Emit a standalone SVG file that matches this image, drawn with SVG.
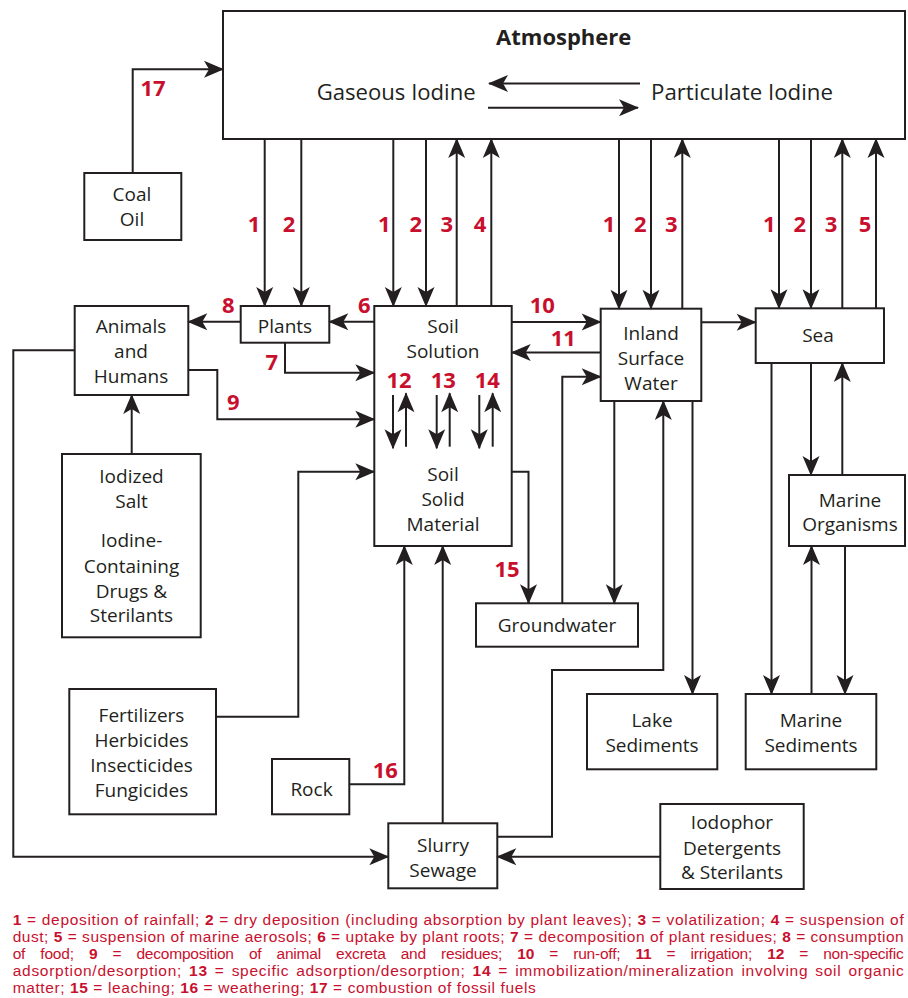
<svg xmlns="http://www.w3.org/2000/svg" width="908" height="998" viewBox="0 0 908 998">
<style>
.box{fill:#fff;stroke:#231f20;stroke-width:2}
.t{font-family:"Open Sans","Noto Sans","Liberation Sans",sans-serif;font-size:19px;fill:#231f20;text-anchor:middle}
.n{font-family:"Open Sans","Noto Sans","Liberation Sans",sans-serif;font-weight:bold;font-size:22px;fill:#c8102e;text-anchor:middle}
.c{fill:none;stroke:#231f20;stroke-width:2;marker-end:url(#ah)}
.leg{font-family:"Liberation Sans",Arial,sans-serif;font-size:15.5px;fill:#c8102e}
.leg tspan.b{font-weight:bold}
</style>
<defs>
<marker id="ah" viewBox="-20 -10 22 20" refX="0" refY="0" markerWidth="22" markerHeight="20" markerUnits="userSpaceOnUse" orient="auto">
<path d="M1,0 L-19,-8.5 L-14,0 L-19,8.5 Z" fill="#231f20"/>
</marker>
</defs>
<rect width="908" height="998" fill="#fff"/>

<g id="atmosphere">
<rect class="box" x="223" y="11" width="682" height="128"/>
<text x="563.7" y="44.5" class="t" style="font-weight:bold;font-size:22px">Atmosphere</text>
<text x="316.7" y="100" class="t" style="text-anchor:start;font-size:22px" textLength="159" lengthAdjust="spacingAndGlyphs">Gaseous Iodine</text>
<text x="651" y="100" class="t" style="text-anchor:start;font-size:22px" textLength="182" lengthAdjust="spacingAndGlyphs">Particulate Iodine</text>
</g>
<g id="coal-oil">
<rect class="box" x="84.3" y="173" width="97" height="67"/>
<text class="t" x="132" y="201.3">Coal</text>
<text class="t" x="132" y="226.3">Oil</text>
</g>
<g id="animals">
<rect class="box" x="74.7" y="306" width="113.6" height="89"/>
<text class="t" x="131" y="332.7">Animals</text>
<text class="t" x="131" y="357.7">and</text>
<text class="t" x="131" y="382.7">Humans</text>
</g>
<g id="plants">
<rect class="box" x="240.7" y="306" width="88.6" height="36.7"/>
<text class="t" x="285" y="332.7">Plants</text>
</g>
<g id="soil">
<rect class="box" x="374.3" y="306" width="137.4" height="240"/>
<text class="t" x="443" y="332.7">Soil</text>
<text class="t" x="443" y="357.7">Solution</text>
<text class="t" x="443" y="480.7">Soil</text>
<text class="t" x="443" y="506">Solid</text>
<text class="t" x="443" y="530.5">Material</text>
</g>
<g id="inland">
<rect class="box" x="600.7" y="308.7" width="100.6" height="92.3"/>
<text class="t" x="651" y="340">Inland</text>
<text class="t" x="651" y="365">Surface</text>
<text class="t" x="651" y="390">Water</text>
</g>
<g id="sea">
<rect class="box" x="755.7" y="308.3" width="128.3" height="54.7"/>
<text class="t" x="818" y="342.3">Sea</text>
</g>
<g id="marine-organisms">
<rect class="box" x="789" y="475" width="116" height="71"/>
<text class="t" x="850" y="506.7">Marine</text>
<text class="t" x="850" y="530.7">Organisms</text>
</g>
<g id="iodized">
<rect class="box" x="62" y="454" width="138.7" height="183.3"/>
<text class="t" x="131.5" y="482.7">Iodized</text>
<text class="t" x="131.5" y="508">Salt</text>
<text class="t" x="131.5" y="547">Iodine-</text>
<text class="t" x="131.5" y="572.5">Containing</text>
<text class="t" x="131.5" y="597.5">Drugs &amp;</text>
<text class="t" x="131.5" y="622.3">Sterilants</text>
</g>
<g id="groundwater">
<rect class="box" x="476" y="603.3" width="162" height="43.4"/>
<text class="t" x="557" y="631.7">Groundwater</text>
</g>
<g id="fertilizers">
<rect class="box" x="69.3" y="689" width="146.7" height="125.3"/>
<text class="t" x="141.5" y="721.7">Fertilizers</text>
<text class="t" x="141.5" y="746.7">Herbicides</text>
<text class="t" x="141.5" y="771.7">Insecticides</text>
<text class="t" x="141.5" y="796.7">Fungicides</text>
</g>
<g id="rock">
<rect class="box" x="272" y="759" width="77.3" height="55.3"/>
<text class="t" x="311.5" y="796">Rock</text>
</g>
<g id="lake-sediments">
<rect class="box" x="587" y="694" width="130.3" height="75.3"/>
<text class="t" x="652" y="726.7">Lake</text>
<text class="t" x="652" y="752.3">Sediments</text>
</g>
<g id="marine-sediments">
<rect class="box" x="745.7" y="694" width="130.6" height="75.3"/>
<text class="t" x="811" y="726.7">Marine</text>
<text class="t" x="811" y="752.3">Sediments</text>
</g>
<g id="slurry">
<rect class="box" x="388.3" y="823.3" width="109" height="65"/>
<text class="t" x="443" y="851.7">Slurry</text>
<text class="t" x="443" y="876.7">Sewage</text>
</g>
<g id="iodophor">
<rect class="box" x="660.3" y="804" width="143.4" height="85"/>
<text class="t" x="732" y="829.3">Iodophor</text>
<text class="t" x="732" y="855">Detergents</text>
<text class="t" x="732" y="879.3">&amp; Sterilants</text>
</g>

<g id="connectors">
<path class="c" d="M640,83.5 H489"/>
<path class="c" d="M488,107.7 H638"/>
<path class="c" d="M132.7,173 V69.3 H223"/>
<path class="c" d="M264.7,139 V306"/>
<path class="c" d="M301.3,139 V306"/>
<path class="c" d="M393.3,139 V306"/>
<path class="c" d="M426,139 V306"/>
<path class="c" d="M456.7,306 V139"/>
<path class="c" d="M491.3,306 V139"/>
<path class="c" d="M619,139 V308.7"/>
<path class="c" d="M651,139 V308.7"/>
<path class="c" d="M682.3,308.7 V139"/>
<path class="c" d="M779,139 V308.3"/>
<path class="c" d="M811,139 V308.3"/>
<path class="c" d="M842.3,308.3 V139"/>
<path class="c" d="M876,308.3 V139"/>
<path class="c" d="M240.7,321.7 H188.3"/>
<path class="c" d="M374.3,321.7 H329.3"/>
<path class="c" d="M285,342.7 V372.7 H374.3"/>
<path class="c" d="M188.3,370 H217.3 V419.3 H374.3"/>
<path class="c" d="M74.7,350.3 H13.3 V856.7 H388.3"/>
<path class="c" d="M131.7,454 V395"/>
<path class="c" d="M216,716.7 H298.3 V471.7 H374.3"/>
<path class="c" d="M349.3,784.3 H404.3 V546"/>
<path class="c" d="M442.7,823.3 V546"/>
<path class="c" d="M497.3,836.7 H552 V670 H663.3 V401"/>
<path class="c" d="M660.3,856.7 H497.3"/>
<path class="c" d="M511.7,471.7 H528.5 V603.3"/>
<path class="c" d="M562.3,603.3 V376.7 H600.7"/>
<path class="c" d="M614.3,401 V603.3"/>
<path class="c" d="M692.5,401 V694"/>
<path class="c" d="M511.7,322 H600.7"/>
<path class="c" d="M600.7,352.5 H511.7"/>
<path class="c" d="M701.3,322.3 H755.7"/>
<path class="c" d="M771.5,363 V694"/>
<path class="c" d="M811,363 V475"/>
<path class="c" d="M842.3,475 V363"/>
<path class="c" d="M811.5,694 V546"/>
<path class="c" d="M845,546 V694"/>
<path class="c" d="M393,395 V448.3"/>
<path class="c" d="M406,446.7 V393.3"/>
<path class="c" d="M436.7,395 V448.3"/>
<path class="c" d="M449.7,446.7 V393.3"/>
<path class="c" d="M479.3,395 V448.3"/>
<path class="c" d="M492.7,446.7 V393.3"/>
<text class="n" x="153" y="96">17</text>
<text class="n" x="254" y="232.3">1</text>
<text class="n" x="289" y="232.3">2</text>
<text class="n" x="384.3" y="232.3">1</text>
<text class="n" x="415.7" y="232.3">2</text>
<text class="n" x="446.7" y="232.3">3</text>
<text class="n" x="480" y="232.3">4</text>
<text class="n" x="609" y="232.3">1</text>
<text class="n" x="640.3" y="232.3">2</text>
<text class="n" x="671.3" y="232.3">3</text>
<text class="n" x="769.3" y="232.3">1</text>
<text class="n" x="799.7" y="232.3">2</text>
<text class="n" x="831" y="232.3">3</text>
<text class="n" x="865" y="232.3">5</text>
<text class="n" x="228.3" y="312.7">8</text>
<text class="n" x="364.3" y="312.7">6</text>
<text class="n" x="271.7" y="370">7</text>
<text class="n" x="233.3" y="410">9</text>
<text class="n" x="542.3" y="312.7">10</text>
<text class="n" x="563.3" y="346">11</text>
<text class="n" x="399" y="388.3">12</text>
<text class="n" x="443.3" y="388.3">13</text>
<text class="n" x="487.3" y="388.3">14</text>
<text class="n" x="507" y="577">15</text>
<text class="n" x="385.3" y="777.7">16</text>
</g>

<g id="legend">
<text class="leg" x="12.7" y="925" textLength="891" lengthAdjust="spacing"><tspan class="b">1</tspan> = deposition of rainfall; <tspan class="b">2</tspan> = dry deposition (including  absorption by plant leaves); <tspan class="b">3</tspan> = volatilization; <tspan class="b">4</tspan> = suspension of</text>
<text class="leg" x="12.7" y="942" textLength="891" lengthAdjust="spacing">dust; <tspan class="b">5</tspan> = suspension of marine aerosols; <tspan class="b">6</tspan> = uptake by plant roots; <tspan class="b">7</tspan> = decomposition of plant residues; <tspan class="b">8</tspan> = consumption</text>
<text class="leg" x="12.7" y="959" textLength="891" lengthAdjust="spacing" style="word-spacing:11px">of food; <tspan class="b">9</tspan> = decomposition of  animal excreta and residues; <tspan class="b">10</tspan> = run-off; <tspan class="b">11</tspan> = irrigation; <tspan class="b">12</tspan> = non-specific</text>
<text class="leg" x="12.7" y="976" textLength="891" lengthAdjust="spacing" style="word-spacing:2px">adsorption/desorption; <tspan class="b">13</tspan> = specific adsorption/desorption;  <tspan class="b">14</tspan> = immobilization/mineralization involving soil organic</text>
<text class="leg" x="12.7" y="993" textLength="523" lengthAdjust="spacing">matter; <tspan class="b">15</tspan> = leaching; <tspan class="b">16</tspan> = weathering; <tspan class="b">17</tspan> = combustion of fossil fuels</text>
</g>
</svg>
